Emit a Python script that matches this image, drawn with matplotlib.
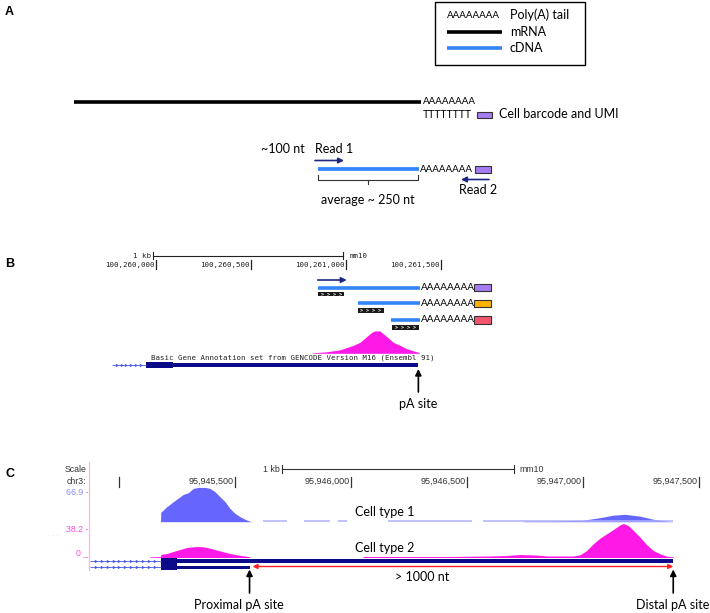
import numpy as np
import matplotlib
matplotlib.use('Agg')
import matplotlib.pyplot as plt
from matplotlib.patches import Rectangle

# ---------------------------------------------------------------- data
legend_labels = ['Poly(A) tail', 'mRNA', 'cDNA']
polyA = 'AAAAAAAA'
polyT = 'TTTTTTTT'
barcode_label = 'Cell barcode and UMI'
read_labels = ['Read 1', 'Read 2']
read1_len_label = '~100 nt'
cdna_len_label = 'average ~ 250 nt'

# panel B  (mm10)
b_tick_pos = [100260000, 100260500, 100261000, 100261500]
b_tick_labels = ['100,260,000', '100,260,500', '100,261,000', '100,261,500']
b_scale_bp = [100259987, 100260987]
b_cdna_start = [100260852, 100261062, 100261236]
b_cdna_end = [100261390, 100261390, 100261390]
b_read_start = [100260852, 100261062, 100261244]
b_read_end = [100260992, 100261200, 100261383]
b_tag_colors = ['#a57cf2', '#ffb300', '#f2566f']
b_cov_pos = [100260827, 100260899, 100260969, 100261039, 100261074, 100261109,
             100261136, 100261153, 100261179, 100261215, 100261249, 100261284,
             100261320, 100261354, 100261386]
b_cov_val = [0.5, 1.5, 3.5, 8, 11, 16.7, 21, 22.5, 22.3, 16.7, 11, 8, 4.5, 2.5, 0.7]
b_gene_intron = [100259769, 100259949]
b_gene_cds = [100259949, 100260093]
b_gene_utr = [100260093, 100261381]
b_pa_site = 100261381
b_track_label = 'Basic Gene Annotation set from GENCODE Version M16 (Ensembl 91)'

# panel C  (mm10 chr3)
c_tick_pos = [95945000, 95945500, 95946000, 95946500, 95947000, 95947500]
c_tick_labels = ['', '95,945,500', '95,946,000', '95,946,500', '95,947,000', '95,947,500']
c_scale_bp = [95945701, 95946701]
c_track_max = ['66.9', '38.2']
cell_types = ['Cell type 1', 'Cell type 2']

c1_cov_pos = [95945179, 95945180, 95945206, 95945234, 95945277, 95945299, 95945320,
              95945342, 95945371, 95945392, 95945414, 95945435, 95945457, 95945478,
              95945500, 95945522, 95945550, 95945572,
              95946741, 95946845, 95946914, 95947000, 95947073, 95947129, 95947181,
              95947246, 95947302, 95947362, 95947389]
c1_cov_val = [0, 9.3, 15, 20, 27.3, 29, 33.3, 34.3, 34.3, 33.3, 30, 25, 20, 13.3, 8.3,
              5, 1.7, 0,
              0.6, 0.8, 1, 1.5, 4, 6.5, 7.4, 5.5, 2.5, 0.7, 0]
c1_low_intervals = [(95945621, 95945724), (95945797, 95945910), (95945944, 95945983),
                    (95946160, 95946522), (95946569, 95947388)]

c2_cov_pos = [95945134, 95945179, 95945180, 95945206, 95945234, 95945263, 95945292,
              95945335, 95945363, 95945392, 95945421, 95945450, 95945478, 95945507,
              95945536, 95945565,
              95946052, 95946427, 95946599, 95946672, 95946728, 95946793, 95946849,
              95946958, 95946987, 95947016, 95947044, 95947073, 95947102, 95947131,
              95947160, 95947174, 95947195, 95947217, 95947246, 95947275, 95947303,
              95947332, 95947361, 95947389]
c2_cov_val = [0.7, 0.9, 3, 4, 6, 8, 10, 11, 10.7, 9.3, 7.5, 5.7, 4, 2.7, 1.7, 0.7,
              1, 1, 1.5, 2, 3, 2.5, 1.5,
              1.5, 2.7, 7, 13.7, 19.3, 23.7, 28, 32.7, 34, 32, 27, 20.3, 12.7, 7, 3.7,
              1.3, 0.7]
c_gene_intron = [95944875, 95945180]
c_gene_cds = [95945180, 95945251]
c_gene_long = [95945251, 95947389]
c_gene_short = [95945251, 95945565]
c_proximal = 95945567
c_distal = 95947389
c_dist_label = '> 1000 nt'
c_site_labels = ['Proximal pA site', 'Distal pA site']

# ---------------------------------------------------------------- style
SANS = 'Lato'
UCSC = 'Liberation Sans'
MONO = 'DejaVu Sans Mono'
CDNA = '#3385ff'
NAVY = '#1c2580'
GENE = '#0b0b8a'
INTRON = '#4a5ae0'
MAG = '#ff19e6'
PERI = '#6666ff'
FS = 9.0

W, H = 710, 613
fig = plt.figure(figsize=(W / 100, H / 100), dpi=100)
ax = fig.add_axes([0, 0, 1, 1])
ax.set_xlim(0, W)
ax.set_ylim(H, 0)
ax.axis('off')


def sub_axes(x0, x1, y0, y1, xlim, ylim):
    a = fig.add_axes([x0 / W, 1 - y1 / H, (x1 - x0) / W, (y1 - y0) / H])
    a.set_xlim(*xlim)
    a.set_ylim(*ylim)
    a.axis('off')
    return a


def arrow(a, x0, y0, x1, y1, color, style='-|>', lw=1.2, ms=8):
    a.annotate('', xy=(x1, y1), xytext=(x0, y0),
               arrowprops=dict(arrowstyle=style, color=color, lw=lw,
                               mutation_scale=ms, shrinkA=0, shrinkB=0),
               annotation_clip=False)


def chevrons(a, x0, x1, y, n, color):
    a.plot([x0, x1], [y, y], color=color, lw=0.6, solid_capstyle='butt')
    xs = np.linspace(x0, x1, n + 2)[1:-1]
    a.plot(xs, [y] * len(xs), ls='none', marker='>', ms=2.4, color=color, mew=0)


# ================================================================ panel A
ax.text(5, 12, 'A', fontsize=9, fontweight='bold', family=UCSC, va='center')
ax.add_patch(Rectangle((435, 2), 150, 63, fill=False, ec='black', lw=1.0))
ax.text(447, 15.5, polyA, fontsize=7, family=SANS, va='center')
ax.plot([447, 502], [32, 32], color='black', lw=2.6, solid_capstyle='butt')
ax.plot([447, 502], [48, 48], color=CDNA, lw=2.6, solid_capstyle='butt')
for lab, y in zip(legend_labels, [15, 31.5, 48]):
    ax.text(510, y, lab, fontsize=FS, family=SANS, va='center')

# mRNA with poly(A) + oligo-dT barcode
ax.plot([74, 421], [102, 102], color='black', lw=2.6, solid_capstyle='butt')
ax.text(423, 101, polyA, fontsize=7, family=SANS, va='center')
ax.text(423, 114.5, polyT, fontsize=7.6, family=SANS, va='center')
ax.add_patch(Rectangle((477, 111.5), 15, 6.5, fc='#a57cf2', ec='#333333', lw=0.8))
ax.text(499, 114.5, barcode_label, fontsize=FS, family=SANS, va='center')

# cDNA with reads
ax.text(261, 149, read1_len_label, fontsize=FS, family=SANS, va='center')
ax.text(315, 149, read_labels[0], fontsize=FS, family=SANS, va='center')
arrow(ax, 315, 160.5, 344, 160.5, NAVY)
ax.plot([317.7, 419], [169.3, 169.3], color=CDNA, lw=2.7, solid_capstyle='butt')
ax.text(420, 169, polyA, fontsize=7, family=SANS, va='center')
ax.add_patch(Rectangle((474.5, 166), 16, 6.7, fc='#a57cf2', ec='#333333', lw=0.8))
arrow(ax, 489, 179.5, 461, 179.5, NAVY)
ax.text(478, 190.5, read_labels[1], fontsize=FS, family=SANS, va='center', ha='center')
ax.plot([318, 318, 418, 418], [175, 179.5, 179.5, 175], color='#333333', lw=0.8)
ax.plot([368, 368], [179.5, 183.5], color='#333333', lw=0.8)
ax.text(368, 200, cdna_len_label, fontsize=FS, family=SANS, va='center', ha='center')

# ================================================================ panel B
ax.text(5, 264, 'B', fontsize=9, fontweight='bold', family=UCSC, va='center')
bpp_b = 500 / 95.1
g_b = lambda px: 100260000 + (px - 155.7) * bpp_b
axB = sub_axes(95, 500, 245, 410, (g_b(95), g_b(500)), (410, 245))

# scale bar
axB.plot(b_scale_bp, [255.7, 255.7], color='#222222', lw=0.8)
for p in b_scale_bp:
    axB.plot([p, p], [252, 259.5], color='#222222', lw=0.8)
axB.annotate('1 kb', xy=(b_scale_bp[0], 255.7), xytext=(-2.5, 0),
             textcoords='offset pixels', ha='right', va='center',
             fontsize=5.4, family=MONO, color='#222222')
axB.annotate('mm10', xy=(b_scale_bp[1], 255.7), xytext=(6, 0),
             textcoords='offset pixels', ha='left', va='center',
             fontsize=5.4, family=MONO, color='#222222')
for p, lab in zip(b_tick_pos, b_tick_labels):
    axB.plot([p, p], [260.5, 269.5], color='#222222', lw=0.9)
    axB.annotate(lab, xy=(p, 265), xytext=(-1.5, 0), textcoords='offset pixels',
                 ha='right', va='center', fontsize=5.4, family=MONO, color='#222222')

# read 1 direction
arrow(axB, b_cdna_start[0], 280, b_cdna_start[0] + 29 * bpp_b, 280, NAVY)

row_y = [287.7, 303.5, 320]
read_y = [294, 310.5, 327.3]
for s, e, rs, re_, col, y, ry in zip(b_cdna_start, b_cdna_end, b_read_start,
                                     b_read_end, b_tag_colors, row_y, read_y):
    axB.plot([s, e], [y, y], color=CDNA, lw=2.6, solid_capstyle='butt')
    axB.annotate(polyA, xy=(e, y), xytext=(1, 0), textcoords='offset pixels',
                 ha='left', va='center', fontsize=7.2, family=SANS)
    axB.add_patch(Rectangle((g_b(474.3), y - 3.7), 16.4 * bpp_b, 7.4,
                            fc=col, ec='#333333', lw=0.8))
    axB.add_patch(Rectangle((rs, ry - 2.4), re_ - rs, 4.8, fc='#1a1a1a', ec='none'))
    axB.text((rs + re_) / 2, ry + 0.2, '> > > >', fontsize=3.6, family=MONO,
             fontweight='bold', color='white', ha='center', va='center')

# coverage
axBc = sub_axes(95, 500, 328, 353.3, (g_b(95), g_b(500)), (0, 25.3))
axBc.fill_between(b_cov_pos, 0, b_cov_val, color=MAG, lw=0)

# gene model
axB.text((b_gene_intron[0] + b_gene_utr[1]) / 2 + 28 * bpp_b, 357.7, b_track_label,
         fontsize=5.3, family=MONO, color='#222222', ha='center', va='center')
chevrons(axB, b_gene_intron[0], b_gene_intron[1], 365, 6, INTRON)
axB.add_patch(Rectangle((b_gene_cds[0], 361.7), b_gene_cds[1] - b_gene_cds[0], 6.3,
                        fc=GENE, ec='none'))
axB.add_patch(Rectangle((b_gene_utr[0], 363.3), b_gene_utr[1] - b_gene_utr[0], 3.4,
                        fc=GENE, ec='none'))
arrow(axB, b_pa_site, 392, b_pa_site, 369, 'black', lw=1.2, ms=9)
axB.text(b_pa_site, 404, 'pA site', fontsize=FS, family=SANS, ha='center', va='center')

# ================================================================ panel C
ax.text(5, 474, 'C', fontsize=9, fontweight='bold', family=UCSC, va='center')
bpp_c = 500 / 116
g_c = lambda px: 95945500 + (px - 235) * bpp_c
xl = (g_c(89), g_c(710))
axC = sub_axes(89, 710, 455, 613, xl, (613, 455))

ax.plot([89.3, 89.3], [462, 570], color='#ffb3e6', lw=0.9)
ax.text(86.5, 470, 'Scale', fontsize=6.3, family=UCSC, ha='right', va='center', color='#333333')
ax.text(86.5, 481.7, 'chr3:', fontsize=6.3, family=UCSC, ha='right', va='center', color='#333333')
ax.text(88, 492.7, c_track_max[0] + ' -', fontsize=6.3, family=UCSC, ha='right',
        va='center', color='#8c8cff')
ax.text(88, 529, c_track_max[1] + ' -', fontsize=6.3, family=UCSC, ha='right',
        va='center', color='#ff4fe3')
ax.text(88, 553, '0 _', fontsize=6.3, family=UCSC, ha='right', va='center', color='#ff4fe3')
ax.text(54, 536, '· · ·', fontsize=5, family=UCSC, ha='center', va='center', color='#f5c6ee')

axC.plot(c_scale_bp, [469, 469], color='#333333', lw=0.8)
for p in c_scale_bp:
    axC.plot([p, p], [465, 473], color='#333333', lw=0.8)
axC.annotate('1 kb', xy=(c_scale_bp[0], 469), xytext=(-2, 0), textcoords='offset pixels',
             ha='right', va='center', fontsize=6.3, family=UCSC, color='#333333')
axC.annotate('mm10', xy=(c_scale_bp[1], 469), xytext=(6, 0), textcoords='offset pixels',
             ha='left', va='center', fontsize=6.3, family=UCSC, color='#333333')
for p, lab in zip(c_tick_pos, c_tick_labels):
    axC.plot([p, p], [476.5, 487], color='#333333', lw=0.9)
    if lab:
        axC.annotate(lab, xy=(p, 481.7), xytext=(-1.5, 0), textcoords='offset pixels',
                     ha='right', va='center', fontsize=6.5, family=UCSC, color='#333333')

# coverage tracks
axC1 = sub_axes(89, 710, 480, 521.7, xl, (0, 41.7))
for s, e in c1_low_intervals:
    axC1.plot([s, e], [0.4, 0.4], color='#b0b0ff', lw=1.1, solid_capstyle='butt')
axC1.fill_between(c1_cov_pos[:18], 0, c1_cov_val[:18], color=PERI, lw=0)
axC1.fill_between(c1_cov_pos[18:], 0, c1_cov_val[18:], color=PERI, lw=0)

axC2 = sub_axes(89, 710, 515, 557.5, xl, (0, 42.5))
axC2.fill_between(c2_cov_pos[:16], 0, c2_cov_val[:16], color=MAG, lw=0)
axC2.fill_between(c2_cov_pos[16:], 0, c2_cov_val[16:], color=MAG, lw=0)

ax.text(385, 512, cell_types[0], fontsize=FS, family=SANS, ha='center', va='center')
ax.text(385, 547.5, cell_types[1], fontsize=FS, family=SANS, ha='center', va='center')

# gene models
for y in (561, 567.3):
    chevrons(axC, c_gene_intron[0], c_gene_intron[1], y, 11, INTRON)
axC.add_patch(Rectangle((c_gene_cds[0], 558), c_gene_cds[1] - c_gene_cds[0], 12.3,
                        fc=GENE, ec='none'))
axC.add_patch(Rectangle((c_gene_long[0], 559.3), c_gene_long[1] - c_gene_long[0], 3.4,
                        fc=GENE, ec='none'))
axC.add_patch(Rectangle((c_gene_short[0], 565.6), c_gene_short[1] - c_gene_short[0], 3.4,
                        fc=GENE, ec='none'))

arrow(axC, c_proximal + 2 * bpp_c, 566.5, c_distal, 566.5, '#ff2020', style='<|-|>',
      lw=1.0, ms=7)
axC.text((c_proximal + c_distal) / 2 - 40 * bpp_c, 577, c_dist_label, fontsize=FS,
         family=SANS, ha='center', va='center')
arrow(axC, c_proximal - 1 * bpp_c, 593, c_proximal - 1 * bpp_c, 569.5, 'black', ms=9)
arrow(axC, c_distal, 593, c_distal, 569.5, 'black', ms=9)
ax.text(239, 605, c_site_labels[0], fontsize=FS, family=SANS, ha='center', va='center')
ax.text(709, 605, c_site_labels[1], fontsize=FS, family=SANS, ha='right', va='center')

fig.savefig('out.png', dpi=100)
